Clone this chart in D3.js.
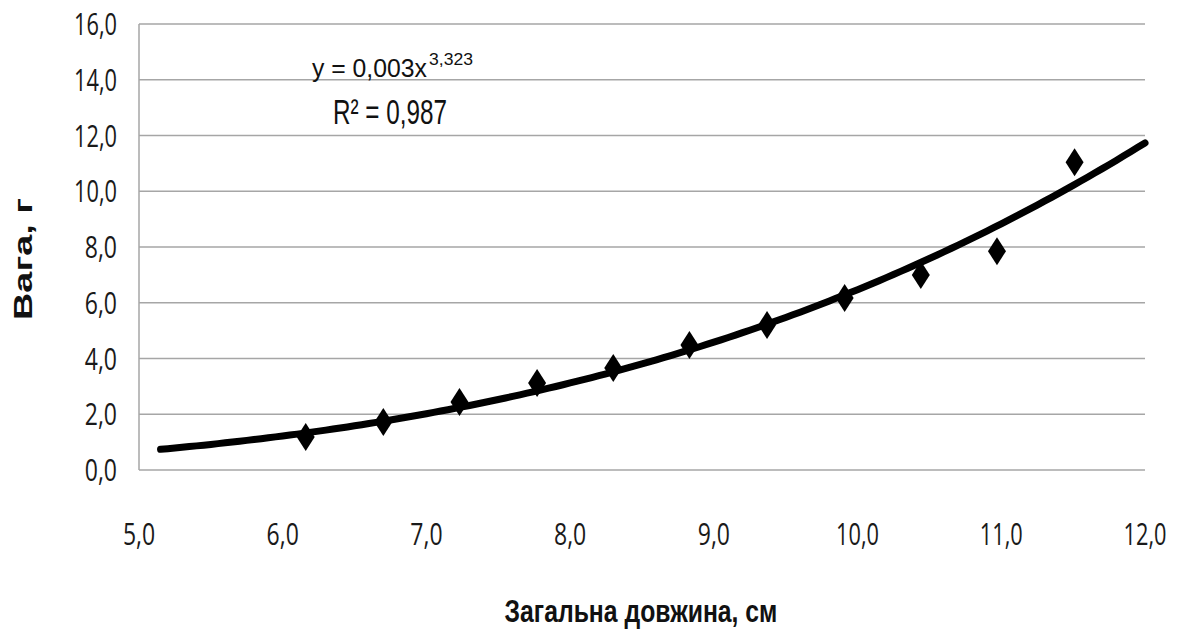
<!DOCTYPE html>
<html lang="uk">
<head>
    <meta charset="UTF-8">
    <title>Вага — довжина</title>
    <script src="https://d3js.org/d3.v7.min.js"></script>
    <style>
        body { margin: 0; background: #fff; }
        svg { display: block; }
        text { font-family: "Liberation Sans", Arial, sans-serif; fill: #111; }
        .tick-label { font-family: "Open Sans", "Liberation Sans", sans-serif; fill: #1a1a1a; }
    </style>
</head>
<body>
<div id="chart"></div>
<script>
    // measured points (length, cm -> weight, g)
    const lengths = [6.16, 6.70, 7.23, 7.77, 8.30, 8.83, 9.37, 9.91, 10.44, 10.97, 11.51];
    const weights = [1.18, 1.72, 2.44, 3.12, 3.66, 4.48, 5.20, 6.17, 7.00, 7.85, 11.04];

    const xTicks = [5, 6, 7, 8, 9, 10, 11, 12];
    const yTicks = [0, 2, 4, 6, 8, 10, 12, 14, 16];
    const trendRange = [5.15, 12];
    const eqMain = "y = 0,003x";
    const eqPow = "3,323";
    const eqR2 = "R² = 0,987";

    const W = 1177, H = 637;
    const fmt = d => d.toFixed(1).replace(".", ",");

    const svg = d3.select("#chart").append("svg")
        .attr("width", W)
        .attr("height", H);

    const x = d3.scaleLinear().domain([5, 12]).range([139, 1145]);
    const y = d3.scaleLinear().domain([0, 16]).range([470, 24]);

    // text squeezed/stretched to a target box (the original picture is distorted)
    function boxText(str, tx, ty, opts) {
        const g = svg.append("g");
        const t = g.append("text")
            .attr("class", opts.cls || null)
            .attr("font-size", opts.size)
            .attr("font-weight", opts.weight || "normal")
            .attr("text-anchor", opts.anchor || "start")
            .text(str);
        const w = t.node().getComputedTextLength();
        const sx = opts.w ? opts.w / w : 1;
        const sy = opts.h ? opts.h / (opts.size * 0.716) : 1;
        g.attr("transform", `translate(${tx},${ty})` + (opts.rotate ? ` rotate(${opts.rotate})` : "") + ` scale(${sx},${sy})`);
        return g;
    }

    // gridlines
    svg.append("g")
        .selectAll("line")
        .data(yTicks)
        .join("line")
        .attr("x1", x(5))
        .attr("x2", x(12))
        .attr("y1", d => y(d))
        .attr("y2", d => y(d))
        .attr("stroke", "#a6a6a6")
        .attr("stroke-width", 1.5);

    // left axis line
    svg.append("line")
        .attr("x1", x(5)).attr("x2", x(5))
        .attr("y1", y(16)).attr("y2", y(0))
        .attr("stroke", "#a6a6a6")
        .attr("stroke-width", 1.5);

    // tick labels
    yTicks.forEach(d => boxText(fmt(d), 117, y(d) + 11, { cls: "tick-label", size: 30, anchor: "end", h: 22, w: fmt(d).length * 10.75 }));
    xTicks.forEach(d => boxText(fmt(d), x(d), 545, { cls: "tick-label", size: 30, anchor: "middle", h: 22, w: fmt(d).length * 10.75 }));

    // power trendline fitted on log-log (like the spreadsheet's power trend)
    const lx = lengths.map(Math.log), ly = weights.map(Math.log);
    const mx = d3.mean(lx), my = d3.mean(ly);
    const b = d3.sum(lx, (v, i) => (v - mx) * (ly[i] - my)) / d3.sum(lx, v => (v - mx) * (v - mx));
    const a = Math.exp(my - b * mx);
    const trend = d3.range(trendRange[0], trendRange[1] + 0.001, 0.05).map(v => [v, a * Math.pow(v, b)]);

    svg.append("path")
        .datum(trend)
        .attr("fill", "none")
        .attr("stroke", "#000")
        .attr("stroke-width", 7)
        .attr("stroke-linecap", "round")
        .attr("d", d3.line().x(d => x(d[0])).y(d => y(d[1])));

    // diamond markers
    const dw = 9, dh = 14;
    svg.append("g")
        .selectAll("path")
        .data(lengths.map((v, i) => [v, weights[i]]))
        .join("path")
        .attr("transform", d => `translate(${x(d[0])},${y(d[1])})`)
        .attr("d", `M0,${-dh}L${dw},0L0,${dh}L${-dw},0Z`)
        .attr("fill", "#000");

    // equation
    boxText(eqMain, 312, 77, { size: 20, w: 115, h: 19 });
    boxText(eqPow, 429, 65, { size: 14, w: 44, h: 12 });
    boxText(eqR2, 333, 124, { size: 22, w: 114, h: 25 });

    // axis titles
    boxText("Загальна довжина, см", 641, 622, { size: 22, weight: "bold", anchor: "middle", w: 273, h: 23 });
    boxText("Вага, г", 32, 259, { size: 24, weight: "bold", anchor: "middle", rotate: -90, w: 122, h: 19 });
</script>
</body>
</html>
